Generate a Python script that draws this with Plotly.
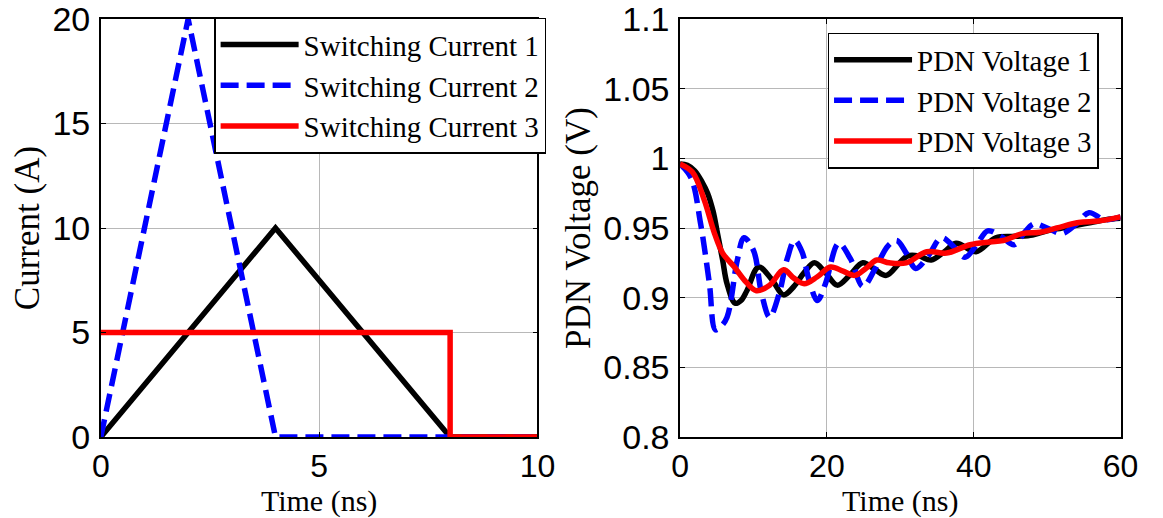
import plotly.graph_objects as go

# ---------------- data ----------------
# Left panel: switching currents (A) vs time (ns)
t_sw1 = [0, 4, 8, 10]
i_sw1 = [0, 10, 0, 0]
t_sw2 = [0, 2, 4, 10]
i_sw2 = [0, 20, 0, 0]
t_sw3 = [0, 8, 8, 10]
i_sw3 = [5, 5, 0, 0]

# Right panel: PDN voltage (V) vs time (ns)
t_v1 = [0, 1, 2, 3, 3.75, 4.5, 5.1, 5.8, 6.4, 7.5, 8.3, 9.1, 10.7, 12.5, 14.1, 15.5,
        16.9, 18.3, 19.8, 21.4, 23.1, 24.9, 26.6, 28.1, 29.9, 31.0, 32.5, 34.2, 36.0,
        37.6, 40.3, 43.0, 45.7, 48, 50, 52, 54, 56, 58, 60]
v_v1 = [0.996, 0.995, 0.991, 0.983, 0.975, 0.962, 0.946, 0.927, 0.910, 0.896, 0.898,
        0.905, 0.922, 0.913, 0.902, 0.908, 0.918, 0.925, 0.918, 0.909, 0.916, 0.925,
        0.920, 0.916, 0.925, 0.930, 0.930, 0.927, 0.933, 0.939, 0.933, 0.943, 0.944,
        0.945, 0.948, 0.950, 0.952, 0.954, 0.956, 0.957]

t_v2 = [0, 1.5, 2.8, 4.0, 4.8, 5.5, 6.4, 7.8, 8.7, 10.0, 11.1, 12.2, 13.5, 14.6, 15.6,
        16.6, 17.6, 18.7, 19.8, 21.6, 23.2, 24.9, 26.5, 28.3, 29.5, 30.8, 32.1, 33.8,
        35.6, 37.2, 38.8, 40.4, 41.9, 43.7, 45.5, 46.8, 48.2, 50.0, 52.0, 54.0, 55.7,
        57.8, 60]
v_v2 = [0.996, 0.986, 0.953, 0.910, 0.877, 0.879, 0.886, 0.927, 0.943, 0.934, 0.903,
        0.886, 0.903, 0.928, 0.941, 0.933, 0.912, 0.898, 0.910, 0.939, 0.928, 0.908,
        0.920, 0.937, 0.941, 0.932, 0.921, 0.930, 0.943, 0.937, 0.929, 0.938, 0.948,
        0.944, 0.938, 0.946, 0.953, 0.950, 0.946, 0.953, 0.961, 0.956, 0.958]

t_v3 = [0, 1.7, 3.3, 4.7, 5.8, 7.4, 8.7, 10.4, 12.2, 14.1, 15.5, 16.9, 18.7, 20.5, 22.2,
        23.8, 25.3, 26.8, 28.5, 30.8, 33.6, 36.3, 39.5, 42.2, 44.0, 46.6, 49.0, 51.3,
        54.3, 57.0, 60]
v_v3 = [0.996, 0.990, 0.970, 0.946, 0.932, 0.922, 0.913, 0.905, 0.909, 0.920, 0.914,
        0.910, 0.915, 0.922, 0.919, 0.916, 0.921, 0.927, 0.925, 0.925, 0.933, 0.932,
        0.938, 0.940, 0.941, 0.946, 0.947, 0.950, 0.954, 0.955, 0.958]

left_names = ["Switching Current 1", "Switching Current 2", "Switching Current 3"]
right_names = ["PDN Voltage 1", "PDN Voltage 2", "PDN Voltage 3"]

left_yticks = [0, 5, 10, 15, 20]
left_xticks = [0, 5, 10]
right_yticks = [0.8, 0.85, 0.9, 0.95, 1.0, 1.05, 1.1]
right_yticklabels = ["0.8", "0.85", "0.9", "0.95", "1", "1.05", "1.1"]
right_xticks = [0, 20, 40, 60]

# ---------------- figure ----------------
W, H = 1163, 518
SERIF = "Liberation Serif"
SANS = "Liberation Sans"
LW = 5.5
DASH = "18px,8px"

fig = go.Figure()

fig.add_trace(go.Scatter(x=t_sw1, y=i_sw1, mode="lines", name=left_names[0],
                         line=dict(color="#000000", width=LW), xaxis="x", yaxis="y",
                         legend="legend"))
fig.add_trace(go.Scatter(x=t_sw2, y=i_sw2, mode="lines", name=left_names[1],
                         line=dict(color="#0000ff", width=LW, dash=DASH), xaxis="x", yaxis="y",
                         legend="legend"))
fig.add_trace(go.Scatter(x=t_sw3, y=i_sw3, mode="lines", name=left_names[2],
                         line=dict(color="#ff0000", width=LW), xaxis="x", yaxis="y",
                         legend="legend"))

fig.add_trace(go.Scatter(x=t_v1, y=v_v1, mode="lines", name=right_names[0],
                         line=dict(color="#000000", width=LW, shape="spline", smoothing=1),
                         xaxis="x2", yaxis="y2", legend="legend2"))
fig.add_trace(go.Scatter(x=t_v2, y=v_v2, mode="lines", name=right_names[1],
                         line=dict(color="#0000ff", width=LW, dash=DASH, shape="spline", smoothing=1),
                         xaxis="x2", yaxis="y2", legend="legend2"))
fig.add_trace(go.Scatter(x=t_v3, y=v_v3, mode="lines", name=right_names[2],
                         line=dict(color="#ff0000", width=LW, shape="spline", smoothing=1),
                         xaxis="x2", yaxis="y2", legend="legend2"))

axis_common = dict(
    showline=True, linecolor="black", linewidth=1.5, mirror="ticks",
    ticks="inside", ticklen=5, tickcolor="black", tickwidth=1,
    showgrid=True, gridcolor="#b8b8b8", gridwidth=1, zeroline=False,
    ticklabeloverflow="allow",
)
xtick_font = dict(family=SANS, size=32, color="black")
ytick_font = dict(family=SANS, size=34, color="black")
xtitle_font = dict(family=SERIF, size=30, color="black")
ytitle_font = dict(family=SERIF, size=35, color="black")

fig.update_layout(
    width=W, height=H,
    margin=dict(l=0, r=0, t=18, b=81),
    paper_bgcolor="white", plot_bgcolor="white",
    xaxis=dict(domain=[94 / W, 541 / W], range=[0, 10], tickvals=left_xticks,
               tickfont=xtick_font,
               title_text="Time (ns)", title_font=xtitle_font, title_standoff=0,
               ticklabelstandoff=0, anchor="y", **axis_common),
    yaxis=dict(domain=[0, 1], range=[0, 20], tickvals=left_yticks,
               tickfont=ytick_font,
               title_text="Current (A)", title_font=ytitle_font, title_standoff=2,
               ticklabelstandoff=2, anchor="x", **axis_common),
    xaxis2=dict(domain=[687 / W, 1138 / W], range=[0, 60], tickvals=right_xticks,
                tickfont=xtick_font,
                title_text="Time (ns)", title_font=xtitle_font, title_standoff=0,
                ticklabelstandoff=0, anchor="y2", **axis_common),
    yaxis2=dict(domain=[0, 1], range=[0.8, 1.1], tickvals=right_yticks,
                ticktext=right_yticklabels, tickfont=ytick_font,
                title_text="PDN Voltage (V)", title_font=ytitle_font, title_standoff=2,
                ticklabelstandoff=2, anchor="x2", **axis_common),
    legend=dict(x=210 / W, y=1.003, xref="paper", yref="paper", xanchor="left", yanchor="top",
                bgcolor="white", bordercolor="black", borderwidth=1.5,
                font=dict(family=SERIF, size=29, color="black"), itemwidth=78,
                tracegroupgap=0),
    legend2=dict(x=838 / W, y=0.967, xref="paper", yref="paper", xanchor="left", yanchor="top",
                 bgcolor="white", bordercolor="black", borderwidth=1.5,
                 font=dict(family=SERIF, size=29, color="black"), itemwidth=78,
                 tracegroupgap=0),
    showlegend=True,
)

fig.write_html("out.html")
